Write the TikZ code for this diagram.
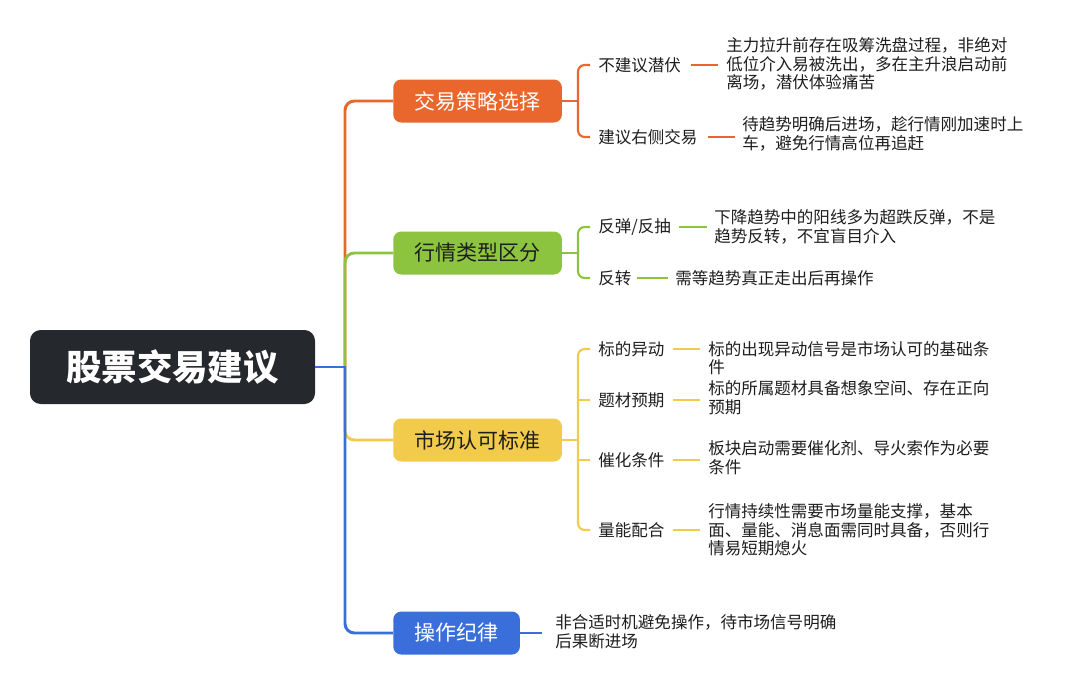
\documentclass[tikz,border=0pt]{standalone}
\usepackage{fontspec}
\setmainfont{Noto Sans CJK SC}
\definecolor{mmRoot}{HTML}{25282C}
\definecolor{mmOrange}{HTML}{E9662C}
\definecolor{mmGreen}{HTML}{8CC43F}
\definecolor{mmYellow}{HTML}{F2CB4C}
\definecolor{mmBlue}{HTML}{3A6FDB}
\definecolor{mmText}{HTML}{1E1E1E}
\newcommand{\ver}[2]{\coordinate (#1) at (#2);}
\tikzset{
  rootbox/.style={fill=mmRoot,text=white,rounded corners=8pt,minimum width=213.75pt,minimum height=55.5pt,font=\fontsize{26.6}{30}\selectfont\bfseries},
  topic/.style={anchor=west,rounded corners=6pt,minimum height=32.25pt,inner xsep=16pt,font=\fontsize{15.75}{18}\selectfont},
  sub/.style={anchor=west,inner sep=0pt,text=mmText,font=\fontsize{12.4}{14}\selectfont},
  desc/.style={anchor=west,align=left,inner sep=0pt,text=mmText,font=\fontsize{12.4}{14}\selectfont},
  trunk/.style={line width=2.2pt,rounded corners=7pt},
  twig/.style={line width=1.6pt,rounded corners=5pt},
  leaf/.style={line width=1.6pt}
}
\begin{document}
\begin{tikzpicture}[x=0.75pt,y=-0.75pt]
  \fill[white] (0,0) rectangle (1080,690);
  \useasboundingbox (0,0) rectangle (1080,690);

  \node[rootbox] (root) at (172.5,367) {股票交易建议};
  \node[topic,fill=mmOrange,text=white] (t1) at (393,101) {交易策略选择};
  \node[topic,fill=mmGreen,text=mmText] (t2) at (393,253) {行情类型区分};
  \node[topic,fill=mmYellow,text=mmText] (t3) at (393,440) {市场认可标准};
  \node[topic,fill=mmBlue,text=white] (t4) at (393,633) {操作纪律};

  \ver{j0}{345,367}
  \draw[trunk,mmOrange] (j0) -- (j0 |- t1.west) -- (t1.west);
  \draw[trunk,mmGreen] (j0) -- (j0 |- t2.west) -- (t2.west);
  \draw[trunk,mmYellow] (j0) -- (j0 |- t3.west) -- (t3.west);
  \draw[trunk,mmBlue] (j0) -- (j0 |- t4.west) -- (t4.west);
  \draw[line width=2.2pt,mmBlue] (root.east) -- ([xshift=1.1pt]j0);

  \node[sub] (s11) at (598,65) {不建议潜伏};
  \node[sub] (s12) at (598,137) {建议右侧交易};
  \node[sub] (s21) at (598,227) {反弹/反抽};
  \node[sub] (s22) at (598,278) {反转};
  \node[sub] (s31) at (598,349) {标的异动};
  \node[sub] (s32) at (598,400) {题材预期};
  \node[sub] (s33) at (598,460) {催化条件};
  \node[sub] (s34) at (598,530) {量能配合};

  \node[desc] (d11) at (726,64) {主力拉升前存在吸筹洗盘过程，非绝对\\低位介入易被洗出，多在主升浪启动前\\离场，潜伏体验痛苦};
  \node[desc] (d12) at (742,134) {待趋势明确后进场，趁行情刚加速时上\\车，避免行情高位再追赶};
  \node[desc] (d21) at (714,227) {下降趋势中的阳线多为超跌反弹，不是\\趋势反转，不宜盲目介入};
  \node[desc] (d22) at (675,278) {需等趋势真正走出后再操作};
  \node[desc] (d31) at (708,358) {标的出现异动信号是市场认可的基础条\\件};
  \node[desc] (d32) at (708,398) {标的所属题材具备想象空间、存在正向\\预期};
  \node[desc] (d33) at (708,458) {板块启动需要催化剂、导火索作为必要\\条件};
  \node[desc] (d34) at (708,530) {行情持续性需要市场量能支撑，基本\\面、量能、消息面需同时具备，否则行\\情易短期熄火};
  \node[desc] (d41) at (555,632) {非合适时机避免操作，待市场信号明确\\后果断进场};

  \ver{b1}{578,101}
  \ver{b2}{578,253}
  \ver{b3}{578,440}
  \draw[twig,mmOrange] (t1.east) -- (b1);
  \draw[twig,mmOrange] ([xshift=-6pt]s11.west) -- (s11.west -| b1) -- (s12.west -| b1) -- ([xshift=-6pt]s12.west);
  \draw[twig,mmGreen] (t2.east) -- (b2);
  \draw[twig,mmGreen] ([xshift=-6pt]s21.west) -- (s21.west -| b2) -- (s22.west -| b2) -- ([xshift=-6pt]s22.west);
  \draw[twig,mmYellow] (t3.east) -- (b3);
  \draw[twig,mmYellow] ([xshift=-6pt]s31.west) -- (s31.west -| b3) -- (s34.west -| b3) -- ([xshift=-6pt]s34.west);
  \draw[twig,mmYellow] ([xshift=-6pt]s32.west) -- (s32.west -| b3);
  \draw[twig,mmYellow] ([xshift=-6pt]s33.west) -- (s33.west -| b3);
  \draw[leaf,mmBlue] (t4.east) -- ([xshift=-10pt]t4.east -| d41.west);

  \draw[leaf,mmOrange] ([xshift=7.5pt]s11.east) -- ([xshift=-6pt]s11.east -| d11.west);
  \draw[leaf,mmOrange] ([xshift=7.5pt]s12.east) -- ([xshift=-5.5pt]s12.east -| d12.west);
  \draw[leaf,mmGreen] ([xshift=6pt]s21.east) -- ([xshift=-5.5pt]s21.east -| d21.west);
  \draw[leaf,mmGreen] ([xshift=4pt]s22.east) -- ([xshift=-5.5pt]s22.east -| d22.west);
  \draw[leaf,mmYellow] ([xshift=6pt]s31.east) -- ([xshift=-6pt]s31.east -| d31.west);
  \draw[leaf,mmYellow] ([xshift=6pt]s32.east) -- ([xshift=-6pt]s32.east -| d32.west);
  \draw[leaf,mmYellow] ([xshift=6pt]s33.east) -- ([xshift=-6pt]s33.east -| d33.west);
  \draw[leaf,mmYellow] ([xshift=6pt]s34.east) -- ([xshift=-6pt]s34.east -| d34.west);
\end{tikzpicture}
\end{document}
